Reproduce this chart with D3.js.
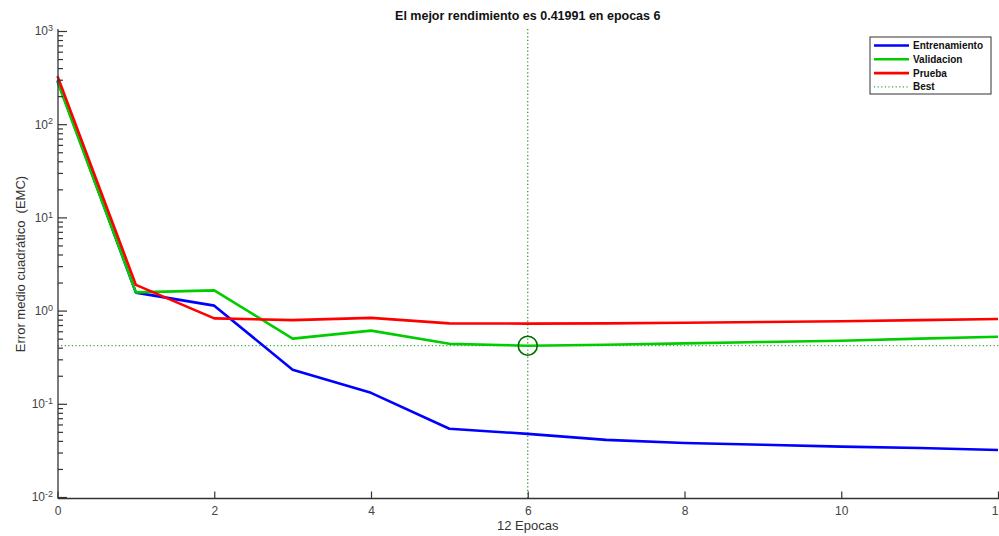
<!DOCTYPE html>
<html>
<head>
<meta charset="utf-8">
<script src="https://cdn.jsdelivr.net/npm/d3@7"></script>
<style>
  html, body { margin: 0; padding: 0; background: #fff; }
  svg { display: block; font-family: "Liberation Sans", Arial, Helvetica, sans-serif; }
</style>
</head>
<body>
<svg id="chart" width="999" height="536"></svg>
<script>
// Performance curves (mean squared error per epoch)
const epochs = [0, 1, 2, 3, 4, 5, 6, 7, 8, 9, 10, 11, 12];
const entrenamiento = [295, 1.56, 1.13, 0.232, 0.131, 0.054, 0.0476, 0.041, 0.038, 0.0363, 0.0347, 0.0335, 0.0319];
const validacion    = [285, 1.57, 1.65, 0.50, 0.61, 0.44, 0.41991, 0.43, 0.445, 0.46, 0.475, 0.50, 0.525];
const prueba        = [328, 1.89, 0.826, 0.79, 0.835, 0.73, 0.725, 0.73, 0.74, 0.755, 0.77, 0.79, 0.814];
const bestEpoch = 6;
const bestValue = 0.41991;
const xTicks = [0, 2, 4, 6, 8, 10, 12];
const yExponents = [-2, -1, 0, 1, 2, 3];
const seriesNames = ["Entrenamiento", "Validacion", "Prueba", "Best"];
const titleText = "El mejor rendimiento es 0.41991 en epocas 6";
const xLabel = "12 Epocas";
const yLabel = "Error medio cuadrático  (EMC)";

const svg = d3.select("#chart");
const plotLeft = 58, plotTop = 31, plotBottom = 497;
const axisColor = "#333";

const x = d3.scaleLinear().domain([0, 12]).range([57.5, 998]);
const y = d3.scaleLog().domain([1e-2, 1e3]).range([plotBottom, plotTop]);

// Best markers
const best = svg.append("g");
best.append("line")
  .attr("x1", x(0)).attr("x2", 999)
  .attr("y1", y(bestValue)).attr("y2", y(bestValue))
  .attr("stroke", "#33aa33").attr("stroke-width", 1.2).attr("stroke-dasharray", "1.2,2.4");
best.append("line")
  .attr("x1", x(bestEpoch)).attr("x2", x(bestEpoch))
  .attr("y1", 29).attr("y2", plotBottom + 1)
  .attr("stroke", "#228822").attr("stroke-width", 1.2).attr("stroke-dasharray", "1.2,2.4");

// Curves
const line = d3.line().x((d, i) => x(epochs[i])).y(d => y(d));
const series = [
  { values: entrenamiento, color: "#0000ff" },
  { values: validacion, color: "#00cc00" },
  { values: prueba, color: "#ff0000" }
];
series.forEach(s => {
  svg.append("path").datum(s.values)
    .attr("d", line)
    .attr("fill", "none")
    .attr("stroke", s.color)
    .attr("stroke-width", 2.6)
    .attr("stroke-linejoin", "round");
});

// Best circle
svg.append("circle")
  .attr("cx", x(bestEpoch)).attr("cy", y(bestValue)).attr("r", 9.5)
  .attr("fill", "none").attr("stroke", "#006e00").attr("stroke-width", 1.6);

// Y axis: major ticks with superscript labels
const yAxis = d3.axisLeft(y)
  .tickValues(yExponents.map(e => Math.pow(10, e)))
  .tickSize(-9).tickPadding(5).tickFormat("");
const gy = svg.append("g").attr("transform", `translate(${plotLeft},0)`).call(yAxis);
gy.select(".domain").attr("d", `M0,29V${plotBottom + 1.5}`).attr("stroke", axisColor).attr("stroke-width", 1.3);
gy.selectAll(".tick line").attr("stroke", axisColor).attr("stroke-width", 1.2);
gy.selectAll(".tick text").each(function(d) {
  const t = d3.select(this)
    .attr("x", -5).attr("dy", "0.32em")
    .attr("fill", "#444").attr("font-size", 12)
    .attr("text-anchor", "end");
  const e = Math.round(Math.log10(d));
  t.append("tspan").text("10");
  t.append("tspan").attr("dy", "-0.45em").attr("font-size", 9).text(String(e));
});

// Y axis minor ticks
const minor = [];
yExponents.slice(0, -1).forEach(e => {
  for (let k = 2; k <= 9; k++) minor.push(k * Math.pow(10, e));
});
const gym = svg.append("g").attr("transform", `translate(${plotLeft},0)`)
  .call(d3.axisLeft(y).tickValues(minor).tickSize(-5).tickFormat(""));
gym.select(".domain").remove();
gym.selectAll(".tick line").attr("stroke", axisColor).attr("stroke-width", 1.2);

// X axis
const xAxis = d3.axisBottom(x).tickValues(xTicks).tickSize(-7).tickPadding(8).tickFormat(d3.format("d"));
const gx = svg.append("g").attr("transform", `translate(0,${plotBottom + 1.5})`).call(xAxis);
gx.select(".domain").attr("d", `M${plotLeft},0H999`).attr("stroke", axisColor).attr("stroke-width", 1.3);
gx.selectAll(".tick line").attr("stroke", axisColor).attr("stroke-width", 1.2);
gx.selectAll(".tick text").attr("fill", "#444").attr("font-size", 12)
  .attr("font-family", "Liberation Sans, Arial, sans-serif");

// Title and axis labels
svg.append("text")
  .attr("x", x(bestEpoch)).attr("y", 20)
  .attr("text-anchor", "middle").attr("font-weight", "bold").attr("font-size", 12.5)
  .attr("fill", "#111").text(titleText);
svg.append("text")
  .attr("x", x(bestEpoch)).attr("y", 530)
  .attr("text-anchor", "middle").attr("font-size", 13).attr("fill", "#333").text(xLabel);
svg.append("text")
  .attr("transform", `translate(25,${(plotTop + plotBottom) / 2}) rotate(-90)`)
  .attr("text-anchor", "middle").attr("font-size", 13).attr("fill", "#333")
  .style("white-space", "pre").text(yLabel);

// Legend
const lg = svg.append("g").attr("transform", "translate(870,37)");
lg.append("rect").attr("width", 121).attr("height", 57)
  .attr("fill", "#fff").attr("stroke", "#333").attr("stroke-width", 1);
const legendStyles = [
  { color: "#0000ff", dash: null, width: 2.6 },
  { color: "#00cc00", dash: null, width: 2.6 },
  { color: "#ff0000", dash: null, width: 2.6 },
  { color: "#33aa33", dash: "1.2,2.4", width: 1.2 }
];
seriesNames.forEach((name, i) => {
  const yy = 8.5 + i * 13.8;
  lg.append("line").attr("x1", 4).attr("x2", 39).attr("y1", yy).attr("y2", yy)
    .attr("stroke", legendStyles[i].color).attr("stroke-width", legendStyles[i].width)
    .attr("stroke-dasharray", legendStyles[i].dash);
  lg.append("text").attr("x", 43).attr("y", yy).attr("dy", "0.35em")
    .attr("font-size", 10).attr("font-weight", "bold").attr("fill", "#111").text(name);
});
</script>
</body>
</html>
